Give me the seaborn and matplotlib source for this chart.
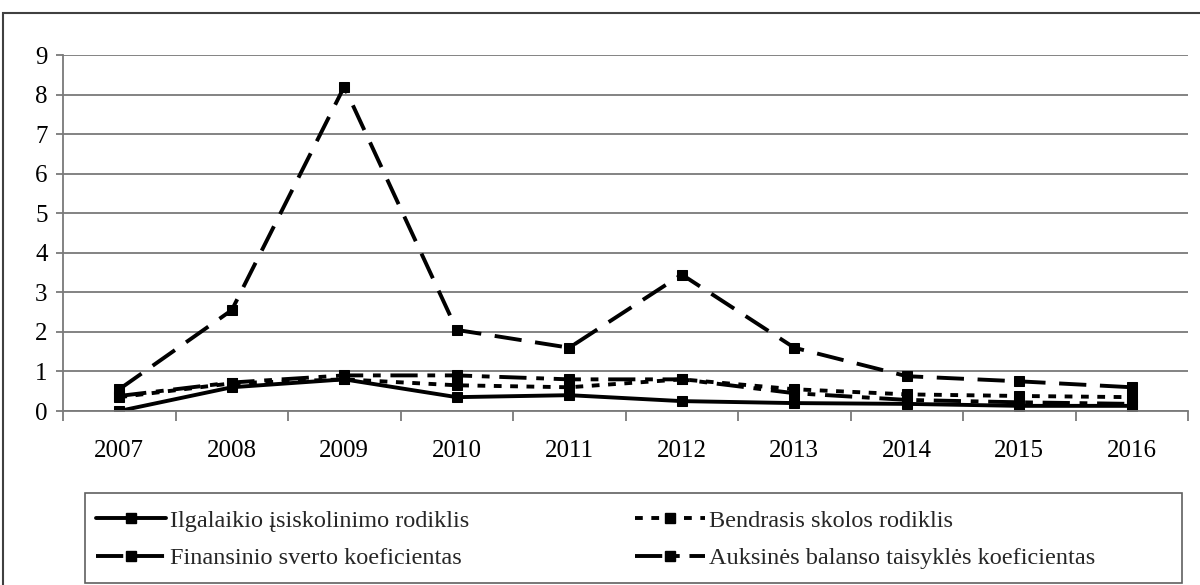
import matplotlib
matplotlib.use("Agg")
import matplotlib.pyplot as plt
from matplotlib.lines import Line2D
from matplotlib.patches import Rectangle
import seaborn as sns
import pandas as pd

years = [2007, 2008, 2009, 2010, 2011, 2012, 2013, 2014, 2015, 2016]
ilgalaikio = [0.00, 0.60, 0.80, 0.35, 0.40, 0.25, 0.20, 0.18, 0.13, 0.13]
bendrasis = [0.35, 0.70, 0.80, 0.65, 0.60, 0.80, 0.55, 0.42, 0.38, 0.35]
finansinio = [0.55, 2.55, 8.20, 2.05, 1.60, 3.45, 1.60, 0.88, 0.75, 0.60]
auksines = [0.38, 0.72, 0.90, 0.90, 0.80, 0.80, 0.45, 0.28, 0.22, 0.18]

names = [
    "Ilgalaikio įsiskolinimo rodiklis",
    "Bendrasis skolos rodiklis",
    "Finansinio sverto koeficientas",
    "Auksinės balanso taisyklės koeficientas",
]
values = [ilgalaikio, bendrasis, finansinio, auksines]
dash_styles = [
    None,
    (2.0, 2.2),
    (7.0, 3.5),
    (7.0, 2.5, 2.0, 2.5),
]

df = pd.DataFrame({
    "year": years * len(names),
    "value": [v for vals in values for v in vals],
    "series": [n for n in names for _ in years],
})

sns.set_theme(style="white")
plt.rcParams["font.family"] = ["Liberation Serif", "DejaVu Serif"]

W, H = 1200, 585
fig = plt.figure(figsize=(W / 100, H / 100), dpi=100)
ax = fig.add_axes([63 / W, 1 - 411 / H, 1125 / W, 356 / H])

lw = 2.8
ms = 7.5
for name, dash in zip(names, dash_styles):
    sub = df[df["series"] == name]
    sns.lineplot(data=sub, x="year", y="value", ax=ax, color="black",
                 linewidth=lw, marker="s", markersize=ms,
                 markeredgecolor="black", markerfacecolor="black",
                 legend=False)
    line = ax.lines[-1]
    if dash is not None:
        line.set_dashes(dash)
    line.set_dash_capstyle("butt")

ax.set_xlim(years[0] - 0.5, years[-1] + 0.5)
ax.set_ylim(0, 9)
ax.set_yticks(range(0, 10))
ax.set_xticks([y + 0.5 for y in [years[0] - 1] + years])
ax.set_xticklabels([])
ax.set_xticks(years, minor=True)
ax.set_xticklabels([str(y) for y in years], minor=True)
ax.set_xlabel("")
ax.set_ylabel("")

ax.yaxis.grid(True, color="#7a7a7a", linewidth=1.3)
ax.xaxis.grid(False)
ax.set_axisbelow(True)
for s in ["top", "right"]:
    ax.spines[s].set_visible(False)
for s in ["left", "bottom"]:
    ax.spines[s].set_color("#7a7a7a")
    ax.spines[s].set_linewidth(1.3)

ax.tick_params(axis="y", which="major", left=True, length=5, width=1.3,
               color="#7a7a7a", labelsize=18, pad=6, labelcolor="black")
ax.tick_params(axis="x", which="major", bottom=True, length=7, width=1.3,
               color="#7a7a7a")
ax.tick_params(axis="x", which="minor", bottom=False, length=0,
               labelsize=18, pad=21, labelcolor="black")

# legend: two columns, row-major reading order
order = [0, 2, 1, 3]
handles = []
for i in order:
    h = Line2D([0, 0.5, 1], [0, 0, 0], color="black", linewidth=lw,
               marker="s", markersize=ms - 1, markevery=[1], label=names[i])
    if dash_styles[i] is not None:
        h.set_dashes(dash_styles[i])
    handles.append(h)

leg = fig.legend(handles=handles, labels=[names[i] for i in order],
                 ncol=2, loc="upper left",
                 bbox_to_anchor=(85 / W, 1 - 499 / H),
                 fontsize=17.5, handlelength=2.9,
                 handletextpad=0.15, labelspacing=0.62, columnspacing=6.8,
                 borderpad=0.45, borderaxespad=0, frameon=False)

# legend frame spanning the plot width
fig.patches.append(Rectangle((85 / W, 1 - 583 / H), (1182 - 85) / W,
                             (583 - 493) / H, transform=fig.transFigure,
                             fill=False, edgecolor="#606060", linewidth=1.2))

# outer chart border
fig.patches.append(Rectangle((3 / W, -0.1), 1.2, (H - 13) / H + 0.1,
                             transform=fig.transFigure, fill=False,
                             edgecolor="#404040", linewidth=1.5))

fig.savefig("out.png", dpi=100)
